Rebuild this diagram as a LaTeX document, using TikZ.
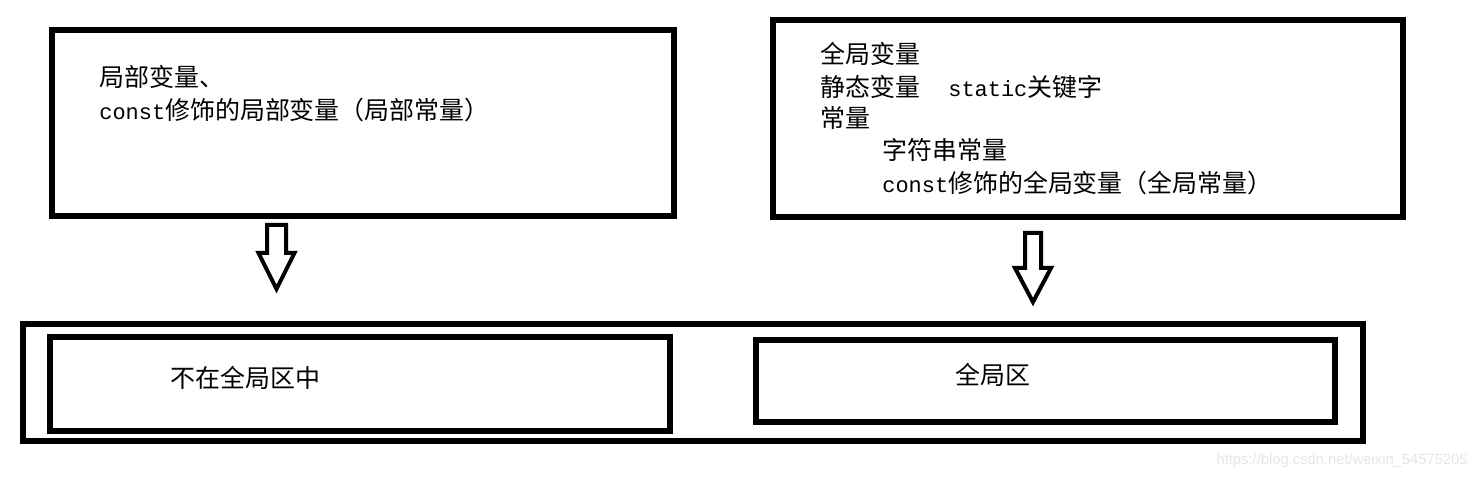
\documentclass[tikz,border=0pt]{standalone}
\usepackage{fontspec}
\setmainfont{Noto Sans CJK SC}
\newfontfamily\latmono{Liberation Mono}
\newfontfamily\marksans{Liberation Sans}
\newcommand\code[1]{{\latmono\fontsize{12.5pt}{14pt}\selectfont #1}}
\tikzset{
  box/.style={draw, line width=0.12cm, inner sep=0pt},
  txt/.style={anchor=base west, inner sep=0pt, font=\fontsize{14.2pt}{17pt}\selectfont},
  blockarrow/.style={draw, line width=0.08cm, line join=miter}
}
\begin{document}
\begin{tikzpicture}[x=0.02cm,y=-0.02cm]
      \useasboundingbox (0,0) rectangle (1478,479);
      \node[box, minimum width=12.44cm, minimum height=3.72cm] (local) at (363,123) {};
      \node[box, minimum width=12.6cm, minimum height=3.94cm] (global) at (1088,118.5) {};
      \node[box, minimum width=26.8cm, minimum height=2.34cm] (memory) at (693,382.5) {};
      \node[box, minimum width=12.4cm, minimum height=1.88cm] (notglobal) at (360,384) {};
      \node[box, minimum width=11.58cm, minimum height=1.64cm] (globalarea) at (1045.5,381) {};
      \node[txt] (local1) at (99,86.5) {局部变量、};
      \node[txt] (local2) at (99,119.5) {\code{const}修饰的局部变量（局部常量）};
      \node[txt] (global1) at (820,63.5) {全局变量};
      \node[txt] (global2) at (820,96.5) {静态变量};
      \node[txt] (global3) at (948,96.5) {\code{static}关键字};
      \node[txt] (global4) at (820,127.5) {常量};
      \node[txt] (global5) at (882,159.5) {字符串常量};
      \node[txt] (global6) at (882,192.5) {\code{const}修饰的全局变量（全局常量）};
      \node[txt] (notglobaltext) at (170,387.5) {不在全局区中};
      \node[txt] (globalareatext) at (955,384.5) {全局区};
      % hollow down arrows
      \foreach \cx/\ytop/\ybase/\ytip/\sw/\hw in {276.5/225/253/289/9.5/18, 1033/233/268/302/8/18}
      {\draw[blockarrow] (\cx-\sw,\ytop) -- (\cx+\sw,\ytop) -- (\cx+\sw,\ybase) -- (\cx+\hw,\ybase)
        -- (\cx,\ytip) -- (\cx-\hw,\ybase) -- (\cx-\sw,\ybase) -- cycle;}
      \node[anchor=east, inner sep=0pt, text=black!10, font=\marksans\fontsize{8.4pt}{10pt}\selectfont] (mark) at (1468,461) {https://blog.csdn.net/weixin\_54575205};
    \end{tikzpicture}
\end{document}
